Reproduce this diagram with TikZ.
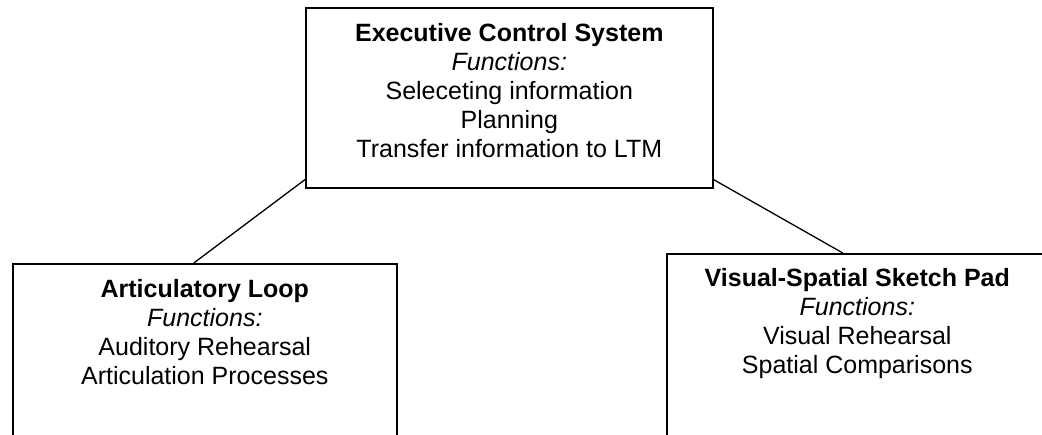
\documentclass[tikz,border=0pt]{standalone}
\usepackage{fontspec}
\setmainfont{Liberation Sans}
\begin{document}
\begin{tikzpicture}[x=1pt,y=-1pt,
  box/.style={draw=black, line width=1.6pt, rectangle, inner sep=0pt, anchor=north west},
  txt/.style={align=center, inner sep=0pt, anchor=north, font=\fontsize{25}{29}\selectfont},
  link/.style={draw=black, line width=1.3pt}]
\useasboundingbox (0,0) rectangle (1042,435);
\clip (0,0) rectangle (1042,435);
% boxes
\node[box, minimum width=407, minimum height=180] (ecs) at (305,7) {};
\node[box, minimum width=384, minimum height=200] (al) at (12,263) {};
\node[box, minimum width=381, minimum height=210] (vs) at (666,253) {};
% texts
\node[txt, yshift=-16pt] (ecst) at (ecs.north) {\textbf{Executive Control System}\\ \textit{Functions:}\\ Seleceting information\\ Planning\\ Transfer information to LTM};
\node[txt, yshift=-16pt] (alt) at (al.north) {\textbf{Articulatory Loop}\\ \textit{Functions:}\\ Auditory Rehearsal\\ Articulation Processes};
\node[txt, yshift=-15pt] (vst) at (vs.north) {\textbf{Visual-Spatial Sketch Pad}\\ \textit{Functions:}\\ Visual Rehearsal\\ Spatial Comparisons};
% connectors
\draw[link] ([yshift=9pt]ecs.south west) -- ([xshift=-11pt]al.north);
\draw[link] ([yshift=9pt]ecs.south east) -- ([xshift=-14.5pt]vs.north);
\end{tikzpicture}
\end{document}
